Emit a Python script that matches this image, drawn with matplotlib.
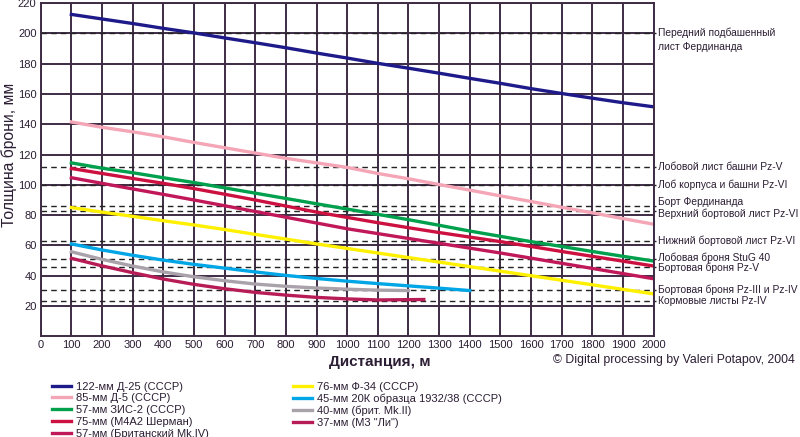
import numpy as np
import matplotlib
matplotlib.use("Agg")
import matplotlib.pyplot as plt

plt.rcParams['font.family'] = ['Liberation Sans', 'DejaVu Sans']

dist = [100, 200, 300, 400, 500, 600, 700, 800, 900, 1000,
        1100, 1200, 1300, 1400, 1500, 1600, 1700, 1800, 1900, 2000]

d25 = [212.5, 209.5, 206.5, 203.3, 200.3, 197, 193.8, 190.5, 187, 183.7,
       180.2, 177, 173.7, 170.3, 167, 163.5, 160.3, 157.2, 154.2, 151.5]
d5 = [141.5, 138, 135, 131.7, 128, 124.5, 121, 117.5, 114.5, 111.5,
      107.5, 104, 100.2, 96.5, 92.7, 89, 85.2, 81.5, 77.7, 74]
zis2 = [114.5, 111, 108, 104.7, 101.5, 98, 94.5, 91, 87.5, 84,
        80.5, 77, 73.3, 69.5, 66, 62.5, 59.3, 56, 52.8, 49.7]
m4a2 = [110.8, 107.5, 104.2, 101, 97.5, 93.8, 90, 86, 82, 78.5,
        75, 71.7, 68.5, 65.5, 62.5, 59.3, 56, 52.8, 49.6, 46.4]
brit57 = [104.7, 101, 97.3, 93.7, 90, 86.2, 82.4, 78.6, 74.8, 71,
          67.8, 64.6, 61.4, 58.2, 55, 51.6, 48.2, 44.8, 41.4, 38]
f34 = [85, 82, 79.2, 76.3, 73.5, 70.5, 67.3, 64.2, 61, 58,
       55, 52, 49, 46, 43, 40, 37, 34, 31, 28]

dist_20k = [100, 200, 300, 400, 500, 600, 700, 800, 900, 1000, 1100, 1200, 1300, 1400]
k20 = [61, 57, 53.5, 50.3, 47.5, 45, 42.5, 40.2, 38.2, 36.4, 34.8, 33.3, 31.8, 30.2]

dist_40 = [100, 200, 300, 400, 500, 600, 700, 800, 900, 1000, 1100, 1200]
mk2 = [55.8, 50.8, 46.4, 42.5, 39.3, 36.7, 34.5, 33, 31.9, 31.1, 30.5, 30.2]

dist_37 = [100, 200, 300, 400, 500, 600, 700, 800, 900, 1000, 1100, 1200, 1250]
m3 = [51.5, 46.5, 42, 37.8, 34.3, 31.4, 29, 27.2, 25.7, 24.7, 24, 24.2, 24.3]

armor = [200, 111.5, 100, 86, 82.5, 63, 50.8, 45.5, 30.5, 23]
armor_labels = ["Передний подбашенный\nлист Фердинанда",
                "Лобовой лист башни Pz-V",
                "Лоб корпуса и башни Pz-VI",
                "Борт Фердинанда",
                "Верхний бортовой лист Pz-VI",
                "Нижний бортовой лист Pz-VI",
                "Лобовая броня StuG 40",
                "Бортовая броня Pz-V",
                "Бортовая броня Pz-III и Pz-IV",
                "Кормовые листы Pz-IV"]
label_shift = [4, 0, 0, 2.5, -1.5, 0, 1, 0, 0, 0]

txt = "#2b1d33"
grid_c = "#3e2c44"

fig = plt.figure(figsize=(8, 4.37), dpi=100)
ax = fig.add_axes([0.0509, 0.2304, 0.7662, 0.7626])

ax.set_xlim(0, 2000)
ax.set_ylim(0, 220)
ax.set_xticks(range(0, 2001, 100))
ax.set_yticks(range(20, 221, 20))
ax.grid(True, color=grid_c, linewidth=1.4)
ax.set_axisbelow(True)
for s in ax.spines.values():
    s.set_color(grid_c)
    s.set_linewidth(1.4)
ax.tick_params(length=0, labelsize=8, colors=txt, pad=3)

for a, lab, sh in zip(armor, armor_labels, label_shift):
    ax.plot([0, 2006], [a, a], color="#222222", linestyle=(0, (4, 3)),
            linewidth=1, clip_on=False, zorder=2)
    va = 'top' if '\n' in lab else 'center'
    ax.text(2014, a + sh, lab, fontsize=7.4, color=txt, va=va, ha='left',
            linespacing=1.5)

lw = 2.4
h1, = ax.plot(dist, d25, color="#1e1a8a", lw=lw, label="122-мм Д-25 (СССР)")
h2, = ax.plot(dist, d5, color="#f4a6b6", lw=lw, label="85-мм Д-5 (СССР)")
h3, = ax.plot(dist, zis2, color="#00a04c", lw=lw, label="57-мм ЗИС-2 (СССР)")
h4, = ax.plot(dist, m4a2, color="#cc1040", lw=lw, label="75-мм (М4А2 Шерман)")
h5, = ax.plot(dist, brit57, color="#c01858", lw=lw, label="57-мм (Британский Mk.IV)")
h6, = ax.plot(dist, f34, color="#fff000", lw=lw, label="76-мм Ф-34 (СССР)")
h7, = ax.plot(dist_20k, k20, color="#00a6e6", lw=lw, label="45-мм 20К образца 1932/38 (СССР)")
h8, = ax.plot(dist_40, mk2, color="#aaa2aa", lw=lw, label="40-мм (брит. Mk.II)")
h9, = ax.plot(dist_37, m3, color="#b81c56", lw=lw, label="37-мм (М3 \"Ли\")")

fig.text(0.011, 0.645, "Толщина брони, мм", fontsize=11.3, color=txt,
         rotation=90, ha='center', va='center')

fig.text(0.475, 0.172, "Дистанция, м", fontsize=11, color=txt,
         fontweight='bold', ha='center', va='center')
fig.text(0.994, 0.176, "© Digital processing by Valeri Potapov, 2004",
         fontsize=8.8, color=txt, ha='right', va='center')

handles = [h1, h2, h3, h4, h5, h6, h7, h8, h9]
leg = fig.legend(handles=handles, ncol=2, loc='upper left',
                 bbox_to_anchor=(0.065, 0.127), frameon=False, fontsize=8,
                 handlelength=1.7, handletextpad=0.45, labelspacing=0.16,
                 columnspacing=7.6, borderaxespad=0, borderpad=0)
for t in leg.get_texts():
    t.set_color(txt)

plt.savefig("out.png", dpi=100)
